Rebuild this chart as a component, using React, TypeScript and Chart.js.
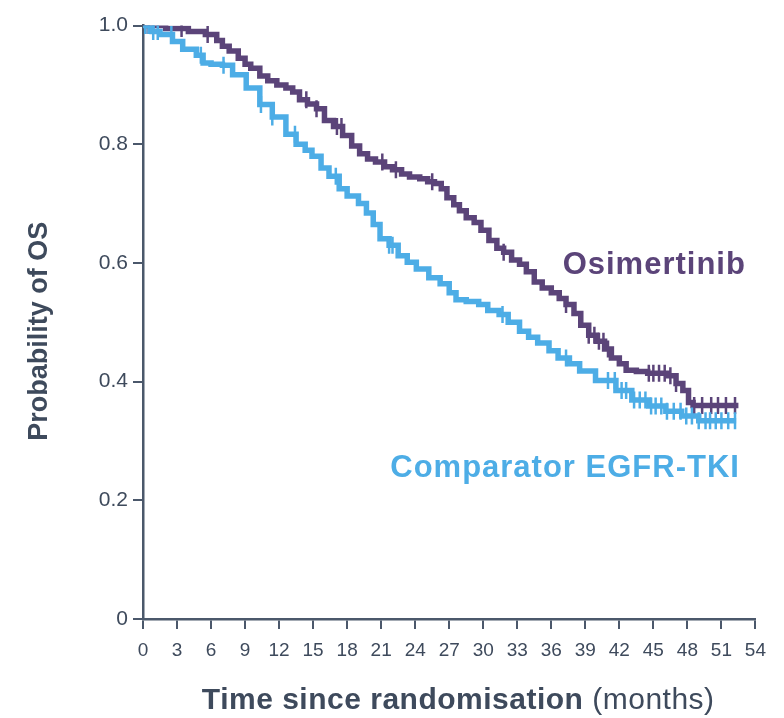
import React, { useEffect, useRef } from "react";
import { Chart, registerables } from "chart.js";

Chart.register(...registerables);

// Kaplan–Meier overall survival, event times (months) and survival probability
const osiTimes = [0, 2.0, 4.0, 5.5, 6.5, 7.0, 7.6, 8.4, 9.0, 9.5, 10.3, 11.0, 11.8, 12.6, 13.2, 13.8, 14.5, 15.3, 16.0, 16.8, 17.6, 18.4, 19.1, 19.8, 20.5, 21.3, 22.0, 22.8, 23.5, 24.4, 25.1, 25.7, 26.3, 26.8, 27.4, 27.9, 28.5, 29.2, 29.8, 30.5, 31.2, 31.8, 32.5, 33.2, 33.8, 34.5, 35.2, 36.0, 36.7, 37.3, 38.0, 38.6, 39.3, 40.0, 40.7, 41.3, 42.0, 42.6, 43.5, 44.5, 46.3, 47.0, 47.6, 48.1, 48.5, 52.5];
const osiSurv = [1.0, 0.995, 0.99, 0.985, 0.975, 0.965, 0.957, 0.945, 0.935, 0.928, 0.915, 0.907, 0.9, 0.895, 0.888, 0.875, 0.868, 0.86, 0.84, 0.83, 0.815, 0.797, 0.784, 0.775, 0.77, 0.762, 0.757, 0.75, 0.745, 0.742, 0.737, 0.734, 0.725, 0.71, 0.698, 0.688, 0.676, 0.668, 0.655, 0.638, 0.625, 0.618, 0.605, 0.598, 0.585, 0.568, 0.558, 0.55, 0.54, 0.53, 0.515, 0.495, 0.478, 0.468, 0.455, 0.44, 0.43, 0.419, 0.417, 0.414, 0.41, 0.397, 0.385, 0.365, 0.36, 0.36];
const osiCensor = [0.2, 0.5, 3.4, 5.7, 14.4, 15.3, 17.1, 17.5, 21.1, 22.3, 25.5, 31.8, 37.3, 39.3, 39.8, 40.2, 40.6, 41.0, 44.6, 45.0, 45.5, 46.0, 46.5, 47.0, 48.6, 49.3, 50.1, 50.7, 51.4, 52.2];

const compTimes = [0, 0.8, 1.5, 2.6, 3.5, 4.7, 5.3, 6.0, 7.0, 7.9, 9.1, 10.3, 11.4, 12.6, 13.5, 14.3, 14.9, 15.7, 16.4, 17.3, 18.0, 19.0, 19.7, 20.3, 20.9, 21.7, 22.5, 23.3, 24.1, 25.2, 26.2, 27.0, 27.6, 28.5, 29.6, 30.4, 31.4, 32.2, 33.2, 34.0, 34.8, 35.8, 36.6, 37.6, 38.5, 39.9, 41.7, 43.1, 44.6, 46.1, 47.5, 49.0, 52.3];
const compSurv = [1.0, 0.99, 0.985, 0.973, 0.96, 0.95, 0.937, 0.935, 0.933, 0.917, 0.895, 0.867, 0.846, 0.817, 0.8, 0.79, 0.78, 0.76, 0.746, 0.725, 0.713, 0.7, 0.684, 0.665, 0.641, 0.63, 0.612, 0.601, 0.59, 0.575, 0.565, 0.55, 0.538, 0.535, 0.53, 0.52, 0.513, 0.5, 0.485, 0.475, 0.465, 0.452, 0.44, 0.43, 0.418, 0.402, 0.385, 0.369, 0.359, 0.35, 0.342, 0.334, 0.334];
const compCensor = [0.2, 0.5, 0.9, 1.3, 2.5, 5.1, 7.1, 10.4, 11.4, 13.4, 17.0, 21.7, 22.0, 31.7, 37.3, 41.0, 41.6, 42.2, 42.6, 43.3, 43.8, 44.3, 44.8, 45.2, 45.7, 46.2, 46.8, 47.4, 47.9, 48.4, 49.0, 49.6, 50.0, 50.5, 51.0, 51.6, 52.2];

const xTicks = [0, 3, 6, 9, 12, 15, 18, 21, 24, 27, 30, 33, 36, 39, 42, 45, 48, 51, 54];
const yTicks = [0, 0.2, 0.4, 0.6, 0.8, 1.0];

const OSI_COLOR = "#5b4479";
const COMP_COLOR = "#4dade6";
const AXIS_COLOR = "#4b586b";
const TEXT_COLOR = "#3e4a5c";
const FONT = "'Liberation Sans', Arial, Helvetica, sans-serif";

// Anchors (data units) for the in-plot series labels
const osiLabel = { text: "Osimertinib", t: 37.0, s: 0.595 };
const compLabel = { text: "Comparator EGFR-TKI", t: 21.8, s: 0.254 };

// survival value of a step curve at time t
function survAt(times: number[], surv: number[], t: number) {
  let v = surv[0];
  for (let i = 0; i < times.length; i++) {
    if (times[i] <= t) v = surv[i];
    else break;
  }
  return v;
}

const toPoints = (times: number[], surv: number[]) => times.map((t, i) => ({ x: t, y: surv[i] }));
const censorPoints = (c: number[], times: number[], surv: number[]) => c.map((t) => ({ x: t, y: survAt(times, surv, t) }));

const textPlugin = {
  id: "kmText",
  afterDraw(chart: any) {
    const { ctx, chartArea, scales } = chart;
    ctx.save();
    // y-axis title
    ctx.fillStyle = TEXT_COLOR;
    ctx.font = `bold 27px ${FONT}`;
    ctx.textAlign = "center";
    ctx.textBaseline = "middle";
    ctx.translate(32, (chartArea.top + chartArea.bottom) / 2 + 9);
    ctx.rotate(-Math.PI / 2);
    ctx.fillText("Probability of OS", 0, 0);
    ctx.restore();

    // x-axis title: bold part + regular unit
    ctx.save();
    const boldPart = "Time since randomisation";
    const regPart = " (months)";
    ctx.textBaseline = "middle";
    ctx.textAlign = "left";
    (ctx as any).letterSpacing = "0.5px";
    ctx.font = `bold 30px ${FONT}`;
    const wb = ctx.measureText(boldPart).width;
    ctx.font = `30px ${FONT}`;
    const wr = ctx.measureText(regPart).width;
    const cx = (chartArea.left + chartArea.right) / 2 + 9;
    const y = chartArea.bottom + 82;
    const x0 = cx - (wb + wr) / 2;
    ctx.fillStyle = TEXT_COLOR;
    ctx.font = `bold 30px ${FONT}`;
    ctx.fillText(boldPart, x0, y);
    ctx.font = `30px ${FONT}`;
    ctx.fillText(regPart, x0 + wb, y);
    ctx.restore();

    // series labels
    ctx.save();
    ctx.textAlign = "left";
    ctx.textBaseline = "middle";
    (ctx as any).letterSpacing = "1px";
    ctx.font = `bold 31px ${FONT}`;
    ctx.fillStyle = OSI_COLOR;
    ctx.fillText(osiLabel.text, scales.x.getPixelForValue(osiLabel.t), scales.y.getPixelForValue(osiLabel.s));
    ctx.fillStyle = COMP_COLOR;
    ctx.fillText(compLabel.text, scales.x.getPixelForValue(compLabel.t), scales.y.getPixelForValue(compLabel.s));
    ctx.restore();
  },
};

export default function App() {
  const ref = useRef<HTMLCanvasElement>(null);

  useEffect(() => {
    if (!ref.current) return;
    const chart = new Chart(ref.current, {
      type: "line",
      data: {
        datasets: [
          {
            label: "Osimertinib",
            data: toPoints(osiTimes, osiSurv),
            stepped: true,
            borderColor: OSI_COLOR,
            borderWidth: 5.5,
            pointRadius: 0,
            fill: false,
            order: 4,
          },
          {
            label: "Osimertinib censored",
            data: censorPoints(osiCensor, osiTimes, osiSurv),
            showLine: false,
            pointStyle: "line",
            pointRotation: 90,
            pointRadius: 8.5,
            borderWidth: 2.5,
            borderColor: OSI_COLOR,
            backgroundColor: OSI_COLOR,
            order: 3,
          },
          {
            label: "Comparator EGFR-TKI",
            data: toPoints(compTimes, compSurv),
            stepped: true,
            borderColor: COMP_COLOR,
            borderWidth: 5.5,
            pointRadius: 0,
            fill: false,
            order: 2,
          },
          {
            label: "Comparator censored",
            data: censorPoints(compCensor, compTimes, compSurv),
            showLine: false,
            pointStyle: "line",
            pointRotation: 90,
            pointRadius: 8.5,
            borderWidth: 2.5,
            borderColor: COMP_COLOR,
            backgroundColor: COMP_COLOR,
            order: 1,
          },
        ],
      },
      options: {
        animation: false,
        responsive: false,
        maintainAspectRatio: false,
        layout: { padding: { left: 0, right: 20, top: 9, bottom: 59 } },
        plugins: { legend: { display: false }, tooltip: { enabled: false } },
        scales: {
          x: {
            type: "linear",
            min: 0,
            max: 54,
            afterBuildTicks: (s: any) => {
              s.ticks = xTicks.map((v) => ({ value: v }));
            },
            afterFit: (s: any) => {
              s.height = 40;
            },
            border: { display: true, color: AXIS_COLOR, width: 2.5 },
            grid: { display: true, drawOnChartArea: false, drawTicks: true, tickLength: 10, color: AXIS_COLOR, lineWidth: 2 },
            ticks: { color: TEXT_COLOR, font: { family: FONT, size: 19 }, padding: 10, maxRotation: 0, autoSkip: false },
          },
          y: {
            type: "linear",
            min: 0,
            max: 1,
            afterBuildTicks: (s: any) => {
              s.ticks = yTicks.map((v) => ({ value: v }));
            },
            afterFit: (s: any) => {
              s.width = 135;
            },
            border: { display: true, color: AXIS_COLOR, width: 2.5 },
            grid: { display: true, drawOnChartArea: false, drawTicks: true, tickLength: 10, color: AXIS_COLOR, lineWidth: 2 },
            ticks: {
              color: TEXT_COLOR,
              font: { family: FONT, size: 21 },
              padding: 5,
              callback: (v: any) => (v === 0 ? "0" : Number(v).toFixed(1)),
            },
          },
        },
      },
      plugins: [textPlugin],
    });
    return () => chart.destroy();
  }, []);

  return (
    <div style={{ width: 768, height: 710 }}>
      <canvas ref={ref} width={768} height={710} style={{ width: 768, height: 710, display: "block" }} />
    </div>
  );
}
